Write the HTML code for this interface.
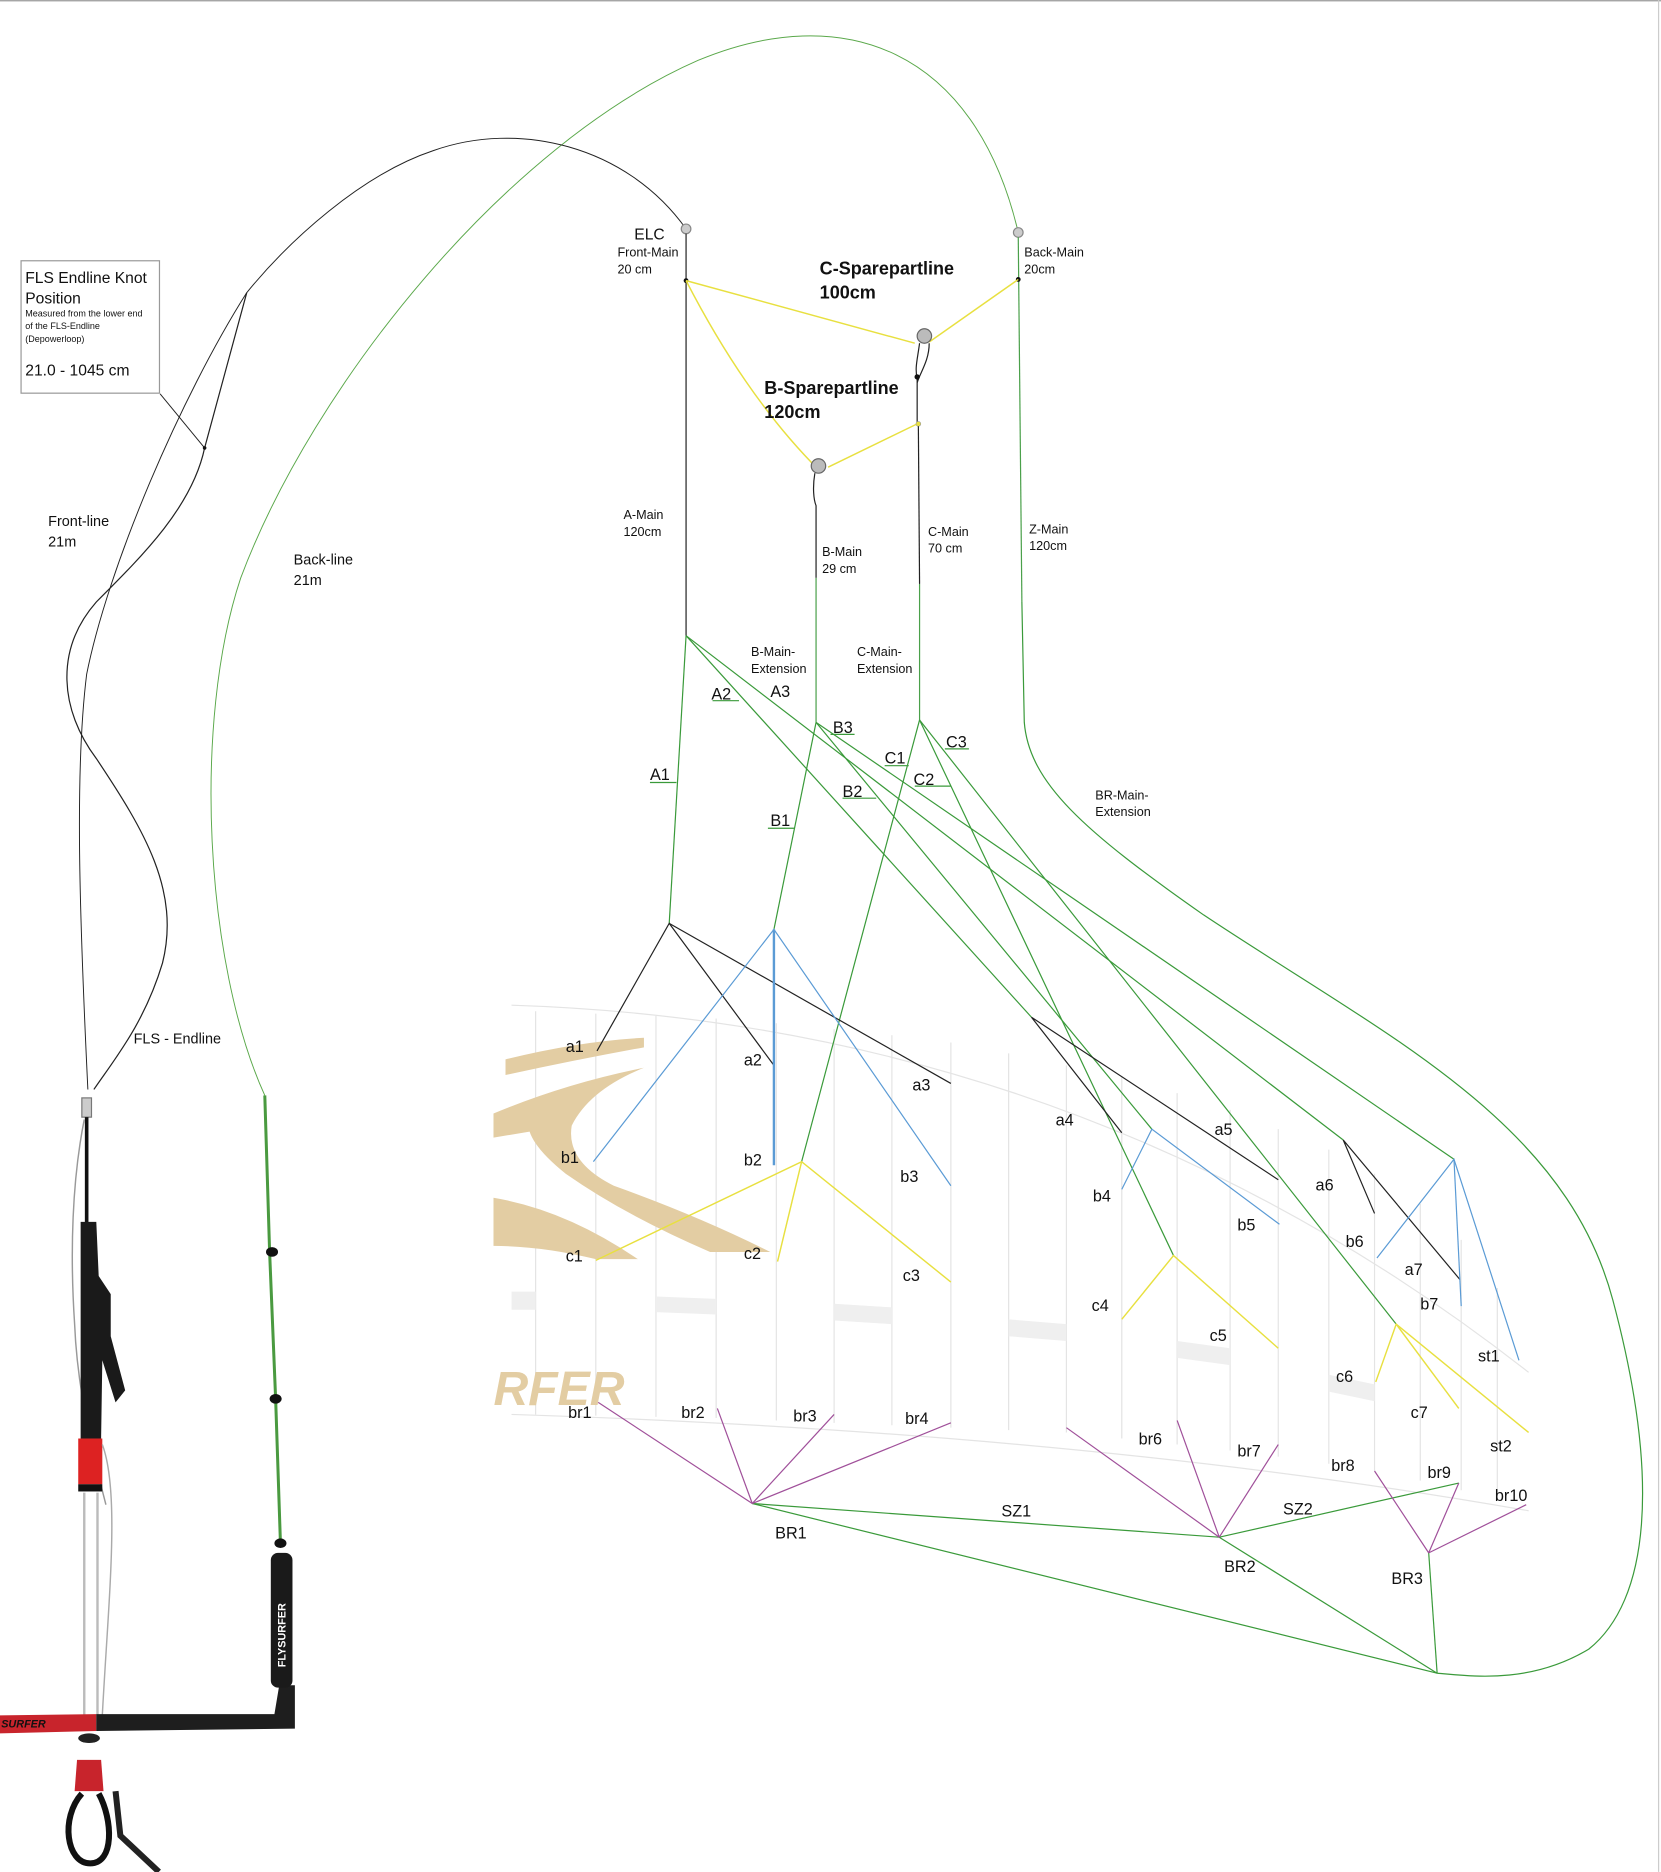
<!DOCTYPE html>
<html><head><meta charset="utf-8"><style>
html,body{margin:0;padding:0;background:#fff;}
svg{display:block;}
text{font-family:"Liberation Sans",sans-serif;fill:#111;}
.s{font-size:10.5px;}
.m{font-size:13px;}
.b{font-size:15px;font-weight:bold;}
</style></head><body>
<svg width="1661" height="1872" viewBox="0 0 1380 1555" xmlns="http://www.w3.org/2000/svg">
<rect width="1380" height="1555" fill="#fff"/>
<line x1="0" y1="0.5" x2="1380" y2="0.5" stroke="#999" stroke-width="1"/>
<line x1="1378" y1="0" x2="1378" y2="1555" stroke="#ccc" stroke-width="1"/>

<!-- kite background -->
<g fill="none" stroke="#e4e4e4" stroke-width="1">
<path d="M425,835 Q900,850 1270,1140"/>
<path d="M425,1175 Q900,1190 1270,1255"/>
<line x1="445" y1="840" x2="445" y2="1175"/><line x1="495" y1="842" x2="495" y2="1176"/>
<line x1="545" y1="844" x2="545" y2="1177"/><line x1="595" y1="846" x2="595" y2="1178"/>
<line x1="645" y1="850" x2="645" y2="1180"/><line x1="693" y1="855" x2="693" y2="1182"/>
<line x1="741" y1="860" x2="741" y2="1184"/><line x1="790" y1="866" x2="790" y2="1186"/>
<line x1="838" y1="875" x2="838" y2="1188"/><line x1="886" y1="885" x2="886" y2="1190"/>
<line x1="932" y1="895" x2="932" y2="1195"/><line x1="978" y1="908" x2="978" y2="1200"/>
<line x1="1022" y1="922" x2="1022" y2="1205"/><line x1="1062" y1="938" x2="1062" y2="1210"/>
<line x1="1104" y1="955" x2="1104" y2="1216"/><line x1="1142" y1="975" x2="1142" y2="1222"/>
<line x1="1180" y1="1000" x2="1180" y2="1230"/><line x1="1214" y1="1030" x2="1214" y2="1238"/>
<line x1="1244" y1="1070" x2="1244" y2="1246"/>
</g>
<g fill="#efefef">
<polygon points="425,1073 445,1073 445,1088 425,1088"/>
<polygon points="545,1077 595,1079 595,1092 545,1090"/>
<polygon points="693,1083 741,1086 741,1100 693,1097"/>
<polygon points="838,1096 886,1100 886,1114 838,1110"/>
<polygon points="978,1114 1022,1120 1022,1134 978,1128"/>
<polygon points="1104,1142 1142,1150 1142,1164 1104,1156"/>
</g>
<g fill="#e3cda3">
<path d="M420,880 Q480,865 535,862 L535,870 Q480,880 420,893 Z"/>
<path d="M410,925 Q470,900 535,887 Q490,905 475,935 Q470,965 510,985 Q580,1010 640,1040 L590,1040 Q520,1010 470,975 Q445,955 440,940 L410,945 Z"/>
<path d="M410,995 Q470,1005 530,1046 L495,1046 Q450,1035 410,1035 Z"/>
<text x="410" y="1167" style="font-size:40px;font-weight:bold;font-style:italic;fill:#e3cda3">RFER</text>
</g>

<!-- back line green -->
<path d="M846,193 C810,40 700,0 580,50 C420,120 260,320 200,480 C160,600 170,800 220,910" fill="none" stroke="#5aa84a" stroke-width="0.8"/>
<!-- front lines black -->
<path d="M570,190 C520,120 430,100 360,125 C300,145 240,200 205,243 C150,330 90,470 72,560 C62,640 66,760 73,905" fill="none" stroke="#222" stroke-width="0.8"/>
<path d="M205,243 L170,372 C160,420 120,460 80,500 C45,540 50,590 80,630 C120,690 150,740 135,800 C120,850 95,880 78,905" fill="none" stroke="#222" stroke-width="1"/>
<line x1="133" y1="327" x2="170" y2="372" stroke="#222" stroke-width="0.8"/>
<circle cx="170" cy="372" r="1.5" fill="#111"/>

<!-- FLS box -->
<rect x="17.5" y="216.5" width="115" height="110" fill="#fff" stroke="#999"/>
<text x="21" y="235" class="m">FLS Endline Knot</text>
<text x="21" y="252" class="m">Position</text>
<text x="21" y="263" style="font-size:7.5px">Measured from the lower end</text>
<text x="21" y="273" style="font-size:7.5px">of the FLS-Endline</text>
<text x="21" y="284" style="font-size:7.5px">(Depowerloop)</text>
<text x="21" y="312" class="m">21.0 - 1045 cm</text>

<text x="40" y="437" class="s" style="font-size:12px">Front-line</text>
<text x="40" y="454" class="s" style="font-size:12px">21m</text>
<text x="244" y="469" class="s" style="font-size:12px">Back-line</text>
<text x="244" y="486" class="s" style="font-size:12px">21m</text>
<text x="111" y="867" class="s" style="font-size:12px">FLS - Endline</text>

<!-- bar -->
<rect x="68" y="912" width="8" height="16" fill="#ccc" stroke="#777"/>
<line x1="72" y1="928" x2="72" y2="1020" stroke="#111" stroke-width="3"/>
<path d="M70,930 C60,980 58,1040 62,1100 C64,1150 75,1200 88,1250" fill="none" stroke="#999" stroke-width="1.2"/>
<path d="M67,1015 L80,1015 L82,1060 L92,1075 L92,1110 L104,1155 L96,1165 L85,1130 L84,1195 L67,1195 Z" fill="#1a1a1a"/>
<rect x="65" y="1195" width="20" height="38" fill="#d22"/>
<rect x="65" y="1233" width="20" height="6" fill="#111"/>
<g stroke="#bbb" stroke-width="2"><line x1="70" y1="1240" x2="70" y2="1425"/><line x1="81" y1="1240" x2="81" y2="1425"/></g>
<path d="M85,1200 C100,1240 90,1330 85,1425" fill="none" stroke="#aaa" stroke-width="1.2"/>
<path d="M0,1425 L80,1424 L80,1438 L0,1440 Z" fill="#c8242c"/>
<text x="1" y="1435" style="font-size:9px;font-weight:bold;font-style:italic;fill:#111">SURFER</text>
<path d="M80,1424 L228,1424 L232,1400 L245,1400 L245,1436 L80,1438 Z" fill="#1e1e1e"/>
<rect x="225" y="1290" width="18" height="112" rx="6" fill="#1a1a1a"/>
<text x="0" y="0" transform="translate(237,1385) rotate(-90)" style="font-size:9px;font-weight:bold;fill:#fff">FLYSURFER</text>
<ellipse cx="74" cy="1444" rx="9" ry="4" fill="#222"/>
<path d="M64,1462 L84,1462 L86,1488 L62,1488 Z" fill="#c8242c"/>
<path d="M68,1490 C50,1510 55,1548 75,1548 C95,1548 94,1512 82,1490" fill="none" stroke="#111" stroke-width="5"/>
<path d="M96,1488 L100,1525 L132,1555" fill="none" stroke="#222" stroke-width="5"/>
<path d="M220,910 L224,1040 L229,1162 L233,1282" fill="none" stroke="#4a9a40" stroke-width="2.5"/>
<ellipse cx="226" cy="1040" rx="5" ry="4" fill="#111"/>
<ellipse cx="229" cy="1162" rx="5" ry="4" fill="#111"/>
<ellipse cx="233" cy="1282" rx="5" ry="4" fill="#111"/>

<!-- Mains -->
<circle cx="570" cy="190" r="4" fill="#ccc" stroke="#888"/>
<circle cx="846" cy="193" r="4" fill="#ccc" stroke="#888"/>
<line x1="570" y1="194" x2="570" y2="528" stroke="#222" stroke-width="1"/>
<line x1="846" y1="197" x2="849" y2="500" stroke="#4aa04a" stroke-width="1"/>
<circle cx="570" cy="233" r="2" fill="#111"/><circle cx="846" cy="232" r="2" fill="#111"/>
<g stroke="#e8e040" stroke-width="1.2" fill="none">
<line x1="570" y1="233" x2="760" y2="285"/>
<line x1="846" y1="232" x2="772" y2="284"/>
<path d="M570,233 Q620,330 680,390"/>
<path d="M762,352 L688,388"/>
</g>
<circle cx="768" cy="279" r="6" fill="#bbb" stroke="#666"/>
<path d="M764,285 C762,300 760,305 762,315 L762,352 M772,285 C772,300 764,310 762,318" fill="none" stroke="#222"/>
<circle cx="762" cy="313" r="2.2" fill="#111"/>
<circle cx="763" cy="352" r="2" fill="#e8e040" stroke="#999" stroke-width="0.5"/>
<line x1="763" y1="354" x2="764" y2="485" stroke="#222"/>
<line x1="764" y1="485" x2="764" y2="598" stroke="#4aa04a"/>
<circle cx="680" cy="387" r="6" fill="#bbb" stroke="#666"/>
<path d="M677,393 C675,405 676,415 678,420 L678,480" fill="none" stroke="#222"/>
<line x1="678" y1="480" x2="678" y2="600" stroke="#4aa04a"/>

<!-- green bridles -->
<g stroke="#3a9a3a" stroke-width="1" fill="none">
<line x1="570" y1="528" x2="556" y2="767"/>
<line x1="570" y1="528" x2="857" y2="845"/>
<line x1="570" y1="528" x2="1116" y2="947"/>
<line x1="678" y1="600" x2="643" y2="772"/>
<line x1="678" y1="600" x2="957" y2="938"/>
<line x1="678" y1="600" x2="1208" y2="963"/>
<line x1="764" y1="598" x2="666" y2="965"/>
<line x1="764" y1="598" x2="975" y2="1043"/>
<line x1="764" y1="598" x2="1160" y2="1100"/>
<path d="M849,500 L851,600 C855,650 900,690 1000,760 C1150,860 1300,930 1340,1080 C1380,1230 1370,1330 1320,1370 C1270,1400 1220,1392 1194,1390"/>
<line x1="625" y1="1249" x2="1013" y2="1277"/>
<line x1="1013" y1="1277" x2="1212" y2="1232"/>
<line x1="625" y1="1249" x2="1194" y2="1390"/>
<line x1="1013" y1="1277" x2="1194" y2="1390"/>
<line x1="1187" y1="1290" x2="1194" y2="1390"/>
<line x1="540" y1="650" x2="562" y2="650"/><line x1="592" y1="582" x2="614" y2="582"/>
<line x1="638" y1="688" x2="660" y2="688"/><line x1="690" y1="610" x2="710" y2="610"/>
<line x1="700" y1="663" x2="728" y2="663"/><line x1="735" y1="636" x2="755" y2="636"/>
<line x1="760" y1="653" x2="790" y2="653"/><line x1="785" y1="622" x2="805" y2="622"/>
</g>
<g stroke="#222" stroke-width="1" fill="none">
<polyline points="496,873 556,767 643,885"/><line x1="556" y1="767" x2="790" y2="900"/>
<polyline points="932,941 857,845 1062,980"/>
<polyline points="1142,1008 1116,947 1213,1063"/>
</g>
<g stroke="#5b9bd5" stroke-width="1" fill="none">
<polyline points="493,965 643,772 790,985"/><line x1="643" y1="772" x2="643" y2="968" stroke-width="2"/>
<polyline points="932,988 957,938 1063,1017"/>
<polyline points="1144,1045 1208,963 1262,1130"/><line x1="1208" y1="963" x2="1214" y2="1085"/>
</g>
<g stroke="#e8e040" stroke-width="1.2" fill="none">
<polyline points="495,1047 666,965 790,1065"/><line x1="666" y1="965" x2="646" y2="1048"/>
<polyline points="932,1096 975,1043 1062,1120"/>
<polyline points="1143,1148 1160,1100 1270,1190"/><line x1="1160" y1="1100" x2="1212" y2="1170"/>
</g>
<g stroke="#a0509a" stroke-width="1" fill="none">
<line x1="625" y1="1249" x2="497" y2="1165"/><line x1="625" y1="1249" x2="596" y2="1170"/>
<line x1="625" y1="1249" x2="693" y2="1175"/><line x1="625" y1="1249" x2="790" y2="1182"/>
<line x1="1013" y1="1277" x2="886" y2="1186"/><line x1="1013" y1="1277" x2="978" y2="1180"/>
<line x1="1013" y1="1277" x2="1062" y2="1200"/>
<line x1="1187" y1="1290" x2="1142" y2="1222"/><line x1="1187" y1="1290" x2="1212" y2="1232"/>
<line x1="1187" y1="1290" x2="1268" y2="1250"/>
</g>

<!-- labels -->
<text x="527" y="199" class="m">ELC</text>
<text x="513" y="213" class="s">Front-Main</text><text x="513" y="227" class="s">20 cm</text>
<text x="851" y="213" class="s">Back-Main</text><text x="851" y="227" class="s">20cm</text>
<text x="681" y="228" class="b">C-Sparepartline</text><text x="681" y="248" class="b">100cm</text>
<text x="635" y="327" class="b">B-Sparepartline</text><text x="635" y="347" class="b">120cm</text>
<text x="518" y="431" class="s">A-Main</text><text x="518" y="445" class="s">120cm</text>
<text x="683" y="462" class="s">B-Main</text><text x="683" y="476" class="s">29 cm</text>
<text x="771" y="445" class="s">C-Main</text><text x="771" y="459" class="s">70 cm</text>
<text x="855" y="443" class="s">Z-Main</text><text x="855" y="457" class="s">120cm</text>
<text x="624" y="545" class="s">B-Main-</text><text x="624" y="559" class="s">Extension</text>
<text x="712" y="545" class="s">C-Main-</text><text x="712" y="559" class="s">Extension</text>
<text x="910" y="664" class="s">BR-Main-</text><text x="910" y="678" class="s">Extension</text>
<g class="m" style="font-size:13.5px">
<text x="540" y="648">A1</text><text x="591" y="581">A2</text><text x="640" y="579">A3</text>
<text x="640" y="686">B1</text><text x="700" y="662">B2</text><text x="692" y="609">B3</text>
<text x="735" y="634">C1</text><text x="759" y="652">C2</text><text x="786" y="621">C3</text>
<text x="470" y="874">a1</text><text x="618" y="885">a2</text><text x="758" y="906">a3</text>
<text x="877" y="935">a4</text><text x="1009" y="943">a5</text><text x="1093" y="989">a6</text><text x="1167" y="1059">a7</text>
<text x="466" y="966">b1</text><text x="618" y="968">b2</text><text x="748" y="982">b3</text>
<text x="908" y="998">b4</text><text x="1028" y="1022">b5</text><text x="1118" y="1036">b6</text><text x="1180" y="1088">b7</text>
<text x="470" y="1048">c1</text><text x="618" y="1046">c2</text><text x="750" y="1064">c3</text>
<text x="907" y="1089">c4</text><text x="1005" y="1114">c5</text><text x="1110" y="1148">c6</text><text x="1172" y="1178">c7</text>
<text x="1228" y="1131">st1</text><text x="1238" y="1206">st2</text>
<text x="472" y="1178">br1</text><text x="566" y="1178">br2</text><text x="659" y="1181">br3</text><text x="752" y="1183">br4</text>
<text x="946" y="1200">br6</text><text x="1028" y="1210">br7</text><text x="1106" y="1222">br8</text><text x="1186" y="1228">br9</text><text x="1242" y="1247">br10</text>
<text x="644" y="1278">BR1</text><text x="1017" y="1306">BR2</text><text x="1156" y="1316">BR3</text>
<text x="832" y="1260">SZ1</text><text x="1066" y="1258">SZ2</text>
</g>
</svg>
</body></html>
